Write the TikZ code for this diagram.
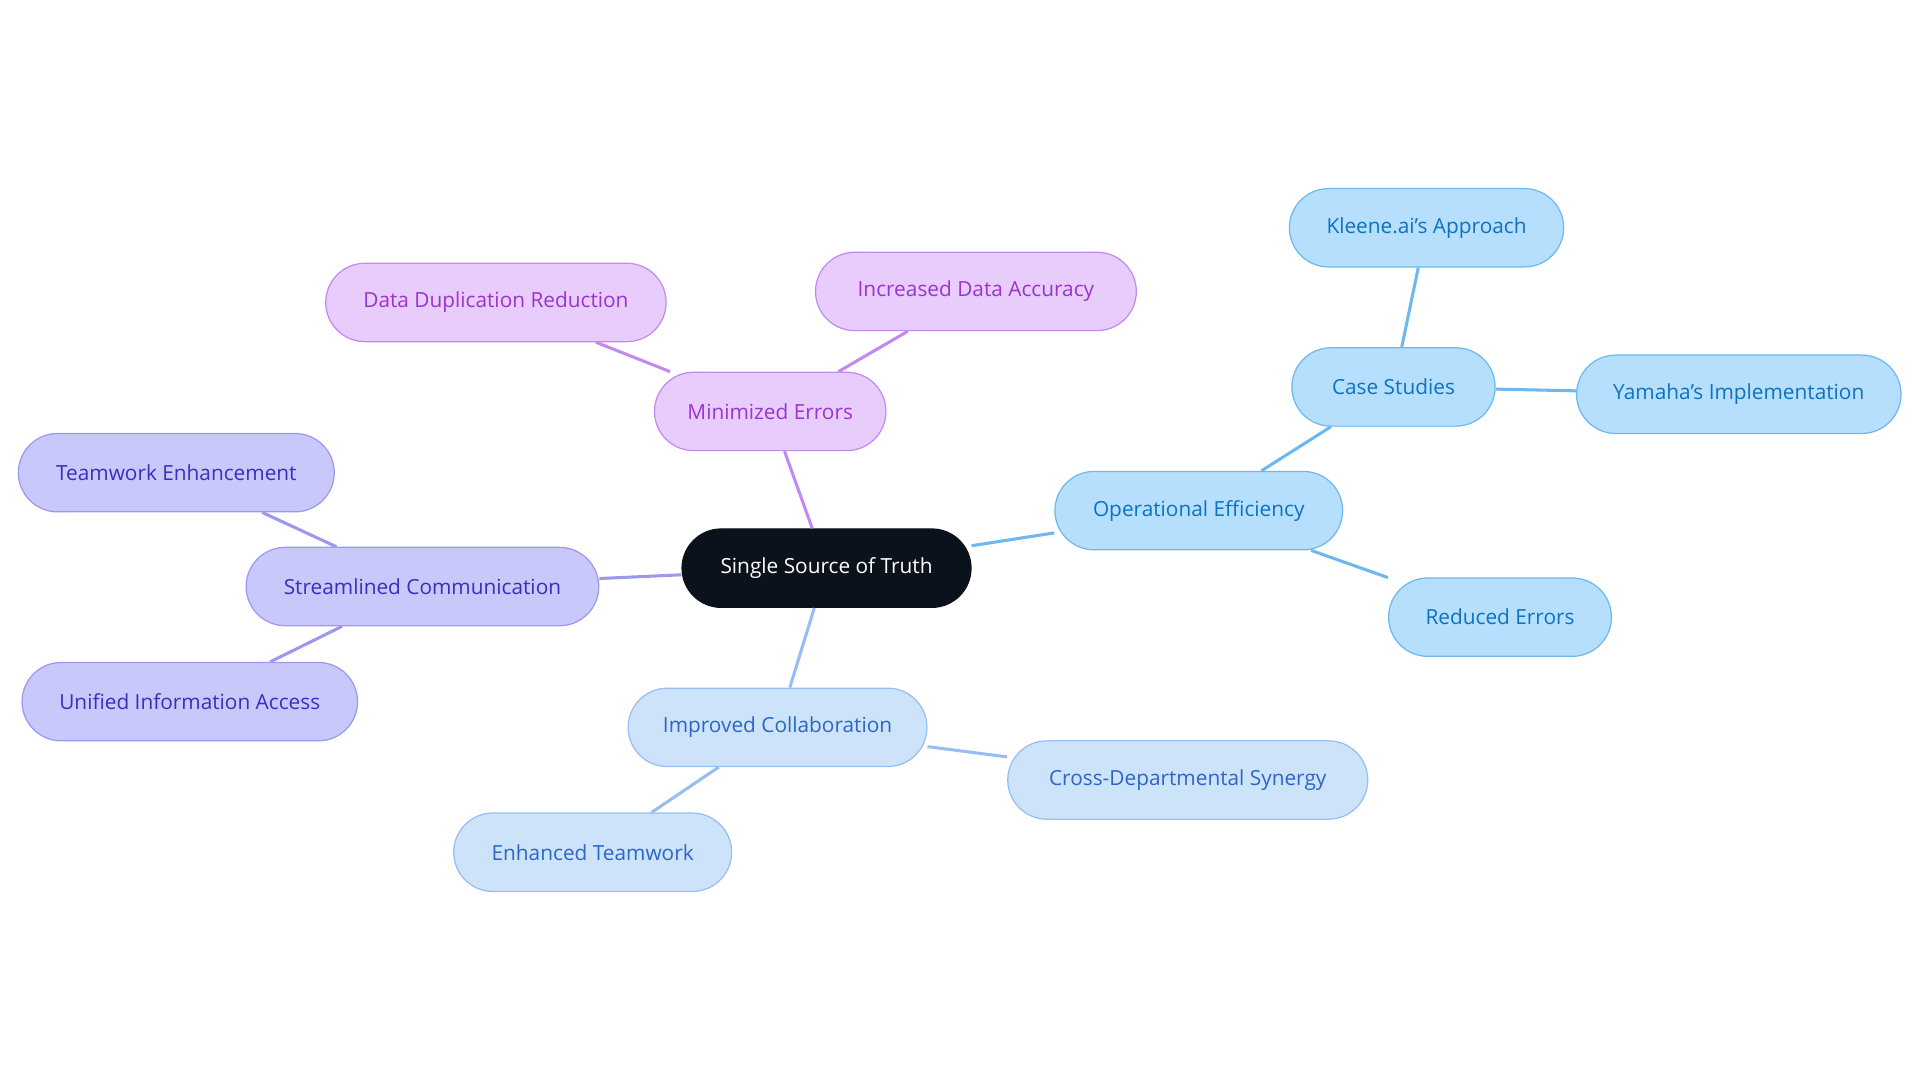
\documentclass[tikz,border=0pt]{standalone}
\usepackage{fontspec}
\setmainfont{Open Sans}
\begin{document}
\begin{tikzpicture}[x=1pt,y=-1pt,
  base/.style={rounded corners=32pt,minimum height=64pt,line width=1pt,font=\fontsize{17}{20}\selectfont,inner sep=0pt},
  pur/.style={base,fill=purF,draw=purD,text=purT},
  ind/.style={base,fill=indF,draw=indD,text=indT},
  lbl/.style={base,fill=lbF,draw=lbD,text=lbT},
  sky/.style={base,fill=skF,draw=skD,text=skT},
  ln/.style={line width=2.5pt}]
\definecolor{purF}{HTML}{E8CCFC}\definecolor{purD}{HTML}{C08AF0}\definecolor{purT}{HTML}{9A33CF}
\definecolor{indF}{HTML}{C8C8FA}\definecolor{indD}{HTML}{9C98EE}\definecolor{indT}{HTML}{3A2FBF}
\definecolor{lbF}{HTML}{CDE3FA}\definecolor{lbD}{HTML}{96BEF0}\definecolor{lbT}{HTML}{2B66C8}
\definecolor{skF}{HTML}{B5DFFD}\definecolor{skD}{HTML}{6DB8EE}\definecolor{skT}{HTML}{0E72C0}
\definecolor{rootF}{HTML}{0B121C}
\useasboundingbox (0,0) rectangle (1568,884);
\node[base,fill=rootF,draw=rootF,text=white,minimum width=236pt] (root) at (675,464) {Single Source of Truth};
\node[pur,minimum width=189pt] (me) at (629,336) {Minimized Errors};
\node[pur,minimum width=278pt] (ddr) at (405,247) {Data Duplication Reduction};
\node[pur,minimum width=262pt] (ida) at (797,238) {Increased Data Accuracy};
\node[ind,minimum width=288pt] (sc) at (345,479) {Streamlined Communication};
\node[ind,minimum width=258pt] (te) at (144,386) {Teamwork Enhancement};
\node[ind,minimum width=274pt] (uia) at (155,573) {Unified Information Access};
\node[lbl,minimum width=244pt] (ic) at (635,594) {Improved Collaboration};
\node[lbl,minimum width=227pt] (et) at (484,696) {Enhanced Teamwork};
\node[lbl,minimum width=294pt] (cds) at (970,637) {Cross-Departmental Synergy};
\node[sky,minimum width=235pt] (oe) at (979,417) {Operational Efficiency};
\node[sky,minimum width=166pt] (cs) at (1138,316) {Case Studies};
\node[sky,minimum width=224pt] (ka) at (1165,186) {Kleene.ai's Approach};
\node[sky,minimum width=265pt] (yi) at (1420,322) {Yamaha's Implementation};
\node[sky,minimum width=182pt] (re) at (1225,504) {Reduced Errors};
\draw[ln,draw=purD] (root) -- (me);
\draw[ln,draw=purD] (me) -- (ddr);
\draw[ln,draw=purD] (me) -- (ida);
\draw[ln,draw=indD] (root) -- (sc);
\draw[ln,draw=indD] (sc) -- (te);
\draw[ln,draw=indD] (sc) -- (uia);
\draw[ln,draw=lbD] (root) -- (ic);
\draw[ln,draw=lbD] (ic) -- (et);
\draw[ln,draw=lbD] (ic) -- (cds);
\draw[ln,draw=skD] (root) -- (oe);
\draw[ln,draw=skD] (oe) -- (cs);
\draw[ln,draw=skD] (oe) -- (re);
\draw[ln,draw=skD] (cs) -- (ka);
\draw[ln,draw=skD] (cs) -- (yi);
\end{tikzpicture}
\end{document}
